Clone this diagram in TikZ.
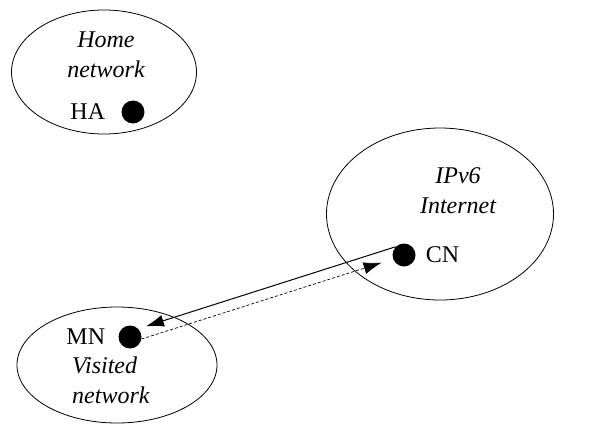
\documentclass[tikz,border=0pt]{standalone}
\usepackage{fontspec}
\setmainfont{Liberation Serif}
\usepackage{tikz}
\usetikzlibrary{shapes.geometric}
\usetikzlibrary{positioning}
\usetikzlibrary{arrows.meta}
\tikzstyle{MIP_style}=[
	x=1pt,y=-1pt,
	net/.style={ellipse,draw,line width=0.8pt,inner sep=0pt},
	host/.style={circle,fill=black,draw=none,minimum size=23pt,inner sep=0pt},
	label/.style={rectangle,draw=none,inner sep=1pt,font=\fontsize{24}{28}\selectfont},
	netname/.style={rectangle,draw=none,inner sep=1pt,align=center,font=\fontsize{24}{30}\selectfont\itshape},
	msg/.style={-{Latex[length=18pt,width=12pt]},line width=1pt},
	reply/.style={-{Latex[length=18pt,width=12pt]},line width=0.7pt,dash pattern=on 3pt off 2pt}
]

\begin{document}
\begin{tikzpicture}[MIP_style]
	\useasboundingbox (0,0) rectangle (604,423);

	%home network
	\node[net,minimum width=185pt,minimum height=124pt] (home) at (104,72) {};
	\node[netname] (home_l) at (106,55) {Home\\network};
	\node[host] (ha) at (133,112) {};
	\node[label] (ha_l) [left=15pt of ha] {HA};

	%internet
	\node[net,minimum width=227pt,minimum height=172pt] (inet) at (440,214) {};
	\node[netname] (inet_l) at (458,191) {IPv6\\Internet};
	\node[host] (cn) at (404,255) {};
	\node[label] (cn_l) [right=9pt of cn] {CN};

	%visited network
	\node[net,minimum width=200pt,minimum height=116pt] (visit) at (117,365) {};
	\node[host] (mn) at (130,337) {};
	\node[label] (mn_l) [left=12pt of mn] {MN};
	\node[netname,align=left,anchor=west] (visit_l) at (71,380) {Visited\\network};

	\path (cn.135) edge [msg,shorten >=8pt] (mn.45)
	(mn.-10) edge [reply,shorten >=12pt] (cn.200);

\end{tikzpicture}
\end{document}
